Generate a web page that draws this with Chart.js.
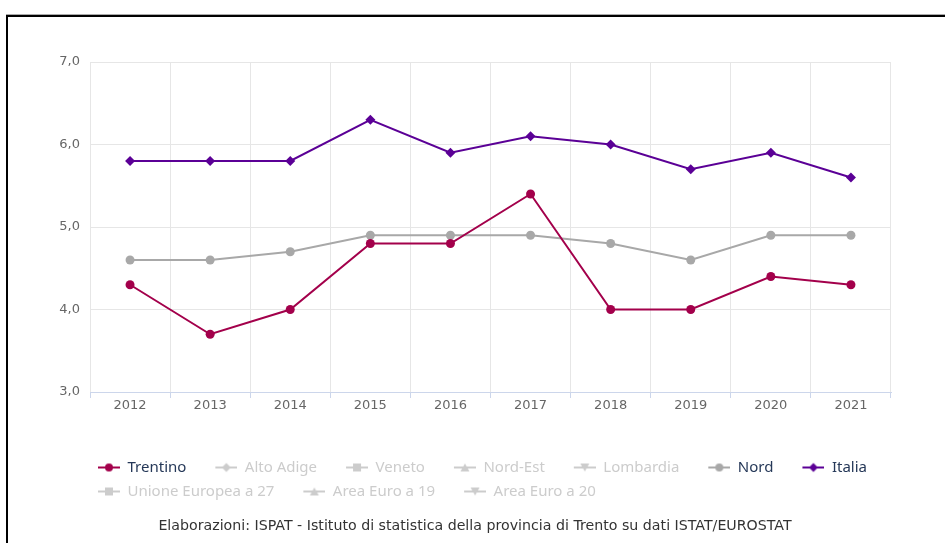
<!DOCTYPE html>
<html>
<head>
<meta charset="utf-8">
<title>Trentino - Italia</title>
<script src="https://cdn.jsdelivr.net/npm/chart.js@4/dist/chart.umd.min.js"></script>
<style>
  html, body { margin: 0; padding: 0; background: #fff; overflow: hidden; }
  #frame {
    position: absolute; left: 6px; top: 15px; width: 1000px; height: 1000px;
    border-top: 2px solid #000; border-left: 2px solid #000;
    box-shadow: 0 -1px 0 #aaa;
  }
  #wrap { position: absolute; left: 0; top: 0; width: 945px; height: 543px; }
  #credits {
    position: absolute; left: 0; top: 517px; width: 950px; text-align: center;
    font: 14.2px "DejaVu Sans", sans-serif; color: #333;
  }
</style>
</head>
<body>
<div id="frame"></div>
<div id="wrap"><canvas id="chart"></canvas></div>
<div id="credits">Elaborazioni: ISPAT - Istituto di statistica della provincia di Trento su dati ISTAT/EUROSTAT</div>
<script>
const years = ['2012', '2013', '2014', '2015', '2016', '2017', '2018', '2019', '2020', '2021']

const trentino = [4.3, 3.7, 4.0, 4.8, 4.8, 5.4, 4.0, 4.0, 4.4, 4.3]
const nord = [4.6, 4.6, 4.7, 4.9, 4.9, 4.9, 4.8, 4.6, 4.9, 4.9]
const italia = [5.8, 5.8, 5.8, 6.3, 5.9, 6.1, 6.0, 5.7, 5.9, 5.6]

// series switched off in the original chart: their values are not shown
const altoAdige = []
const veneto = []
const nordEst = []
const lombardia = []
const ue27 = []
const areaEuro19 = []
const areaEuro20 = []

const yTicks = [3, 4, 5, 6, 7]

const HIDDEN = '#cccccc'
const TEXT = '#253858'

// line + marker, like the legend symbols of the original
const legendMarker = (shape, color) => {
  const c = document.createElement('canvas')
  c.width = 42
  c.height = 14
  const ctx = c.getContext('2d')
  ctx.strokeStyle = color
  ctx.fillStyle = color
  ctx.lineWidth = 2
  ctx.beginPath()
  ctx.moveTo(20, 7)
  ctx.lineTo(42, 7)
  ctx.stroke()
  const x = 31, y = 7
  ctx.beginPath()
  if (shape === 'circle') {
    ctx.arc(x, y, 4, 0, Math.PI * 2)
  } else if (shape === 'diamond') {
    ctx.moveTo(x, y - 4.5); ctx.lineTo(x + 4.5, y); ctx.lineTo(x, y + 4.5); ctx.lineTo(x - 4.5, y)
  } else if (shape === 'square') {
    ctx.rect(x - 4, y - 4, 8, 8)
  } else if (shape === 'triangle') {
    ctx.moveTo(x, y - 4); ctx.lineTo(x + 4.5, y + 4); ctx.lineTo(x - 4.5, y + 4)
  } else if (shape === 'triangle-down') {
    ctx.moveTo(x, y + 4); ctx.lineTo(x + 4.5, y - 4); ctx.lineTo(x - 4.5, y - 4)
  }
  ctx.closePath()
  ctx.fill()
  return c
}

const series = (label, data, color, marker, hidden) => ({
  label,
  data,
  marker,
  hidden,
  borderColor: color,
  backgroundColor: color,
  borderWidth: 2,
  tension: 0,
  pointStyle: marker === 'diamond' ? 'rectRot' : marker === 'square' ? 'rect' : marker === 'circle' ? 'circle' : 'triangle',
  rotation: marker === 'triangle-down' ? 180 : 0,
  pointRadius: marker === 'diamond' ? 5 : 4.5,
  pointHoverRadius: 5,
  pointBorderWidth: 0,
})

const font = { family: '"DejaVu Sans", sans-serif', size: 13 }

// legend rows start under the plot like in the original, not at the canvas edge
const legendShift = {
  id: 'legendShift',
  afterLayout: (chart) => { chart.legend.left = 69 },
}

const config = {
  type: 'line',
  data: {
    labels: years,
    datasets: [
      series('Trentino', trentino, '#a3004b', 'circle', false),
      series('Alto Adige', altoAdige, HIDDEN, 'diamond', true),
      series('Veneto', veneto, HIDDEN, 'square', true),
      series('Nord-Est', nordEst, HIDDEN, 'triangle', true),
      series('Lombardia', lombardia, HIDDEN, 'triangle-down', true),
      series('Nord', nord, '#a8a8a8', 'circle', false),
      series('Italia', italia, '#5b0096', 'diamond', false),
      series('Unione Europea a 27', ue27, HIDDEN, 'square', true),
      series('Area Euro a 19', areaEuro19, HIDDEN, 'triangle', true),
      series('Area Euro a 20', areaEuro20, HIDDEN, 'triangle-down', true),
    ],
  },
  plugins: [legendShift],
  options: {
    animation: false,
    responsive: true,
    maintainAspectRatio: false,
    layout: { padding: { left: 0, right: 54, top: 62, bottom: 34 } },
    scales: {
      x: {
        offset: true,
        grid: { color: '#e6e6e6', tickColor: '#ccd6eb', tickLength: 6, offset: true },
        border: { color: '#ccd6eb' },
        ticks: { color: '#666', font, padding: 0, maxRotation: 0 },
        afterFit: (scale) => { scale.height = 59 },
      },
      y: {
        min: yTicks[0],
        max: yTicks[yTicks.length - 1],
        afterBuildTicks: (scale) => { scale.ticks = yTicks.map((value) => ({ value })) },
        grid: { color: '#e6e6e6', drawTicks: false },
        border: { display: false },
        ticks: {
          color: '#666',
          font,
          padding: 10,
          callback: (v) => Number(v).toFixed(1).replace('.', ','),
        },
        afterFit: (scale) => { scale.width = 90 },
      },
    },
    plugins: {
      tooltip: { enabled: false },
      legend: {
        position: 'bottom',
        align: 'start',
        labels: {
          usePointStyle: true,
          pointStyleWidth: 42,
          padding: 9,
          font: { family: '"Noto Sans", sans-serif', size: 15 },
          generateLabels: (chart) => chart.data.datasets.map((ds, i) => {
            const visible = chart.isDatasetVisible(i)
            return {
              text: ds.label,
              datasetIndex: i,
              hidden: false,
              fontColor: visible ? TEXT : HIDDEN,
              pointStyle: legendMarker(ds.marker, visible ? ds.borderColor : HIDDEN),
              fillStyle: 'transparent',
              strokeStyle: 'transparent',
              lineWidth: 0,
            }
          }),
        },
      },
    },
  },
}

new Chart(document.getElementById('chart'), config)
</script>
</body>
</html>
